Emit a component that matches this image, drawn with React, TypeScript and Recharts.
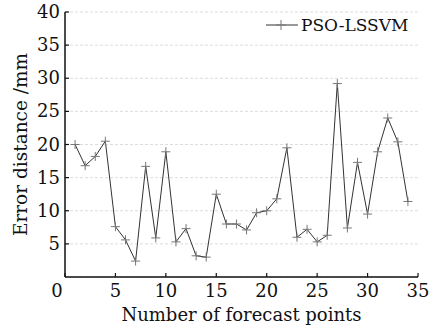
import { LineChart, Line, XAxis, YAxis, CartesianGrid, Legend } from 'recharts';

const forecastPoints = [
  1, 2, 3, 4, 5, 6, 7, 8, 9, 10, 11, 12, 13, 14, 15, 16, 17,
  18, 19, 20, 21, 22, 23, 24, 25, 26, 27, 28, 29, 30, 31, 32, 33, 34,
];
const psoLssvm = [
  20.0, 16.8, 18.2, 20.5, 7.6, 5.6, 2.4, 16.7, 5.9, 18.9, 5.3, 7.3, 3.2, 3.0, 12.5, 8.0, 8.0,
  7.1, 9.7, 10.0, 11.8, 19.5, 6.0, 7.2, 5.3, 6.3, 29.2, 7.4, 17.3, 9.5, 18.9, 24.0, 20.4, 11.4,
];
const xTicks = [0, 5, 10, 15, 20, 25, 30, 35];
const yTicks = [5, 10, 15, 20, 25, 30, 35, 40];

const FONT = 'DejaVu Serif';

const chartData = forecastPoints.map((n, i) => ({ n, err: psoLssvm[i] }));

function PlusDot(props: any) {
  const { cx, cy } = props;
  if (cx == null || cy == null) return null;
  return (
    <g stroke="#777" strokeWidth={1}>
      <line x1={cx - 4.5} y1={cy} x2={cx + 4.5} y2={cy} />
      <line x1={cx} y1={cy - 4.5} x2={cx} y2={cy + 4.5} />
    </g>
  );
}

function XTick(props: any) {
  const { x, y, payload } = props;
  const shift = payload.value === 0 ? -8 : 0;
  return (
    <text x={x + shift} y={y} dy={14} textAnchor="middle" fill="#111" fontSize={18} fontFamily={FONT}>
      {payload.value}
    </text>
  );
}

function YTick(props: any) {
  const { x, y, payload } = props;
  return (
    <text x={x} y={y} dy={6} textAnchor="end" fill="#111" fontSize={18} fontFamily={FONT}>
      {payload.value}
    </text>
  );
}

function LegendBox(props: any) {
  const name = props.payload && props.payload[0] ? props.payload[0].value : '';
  return (
    <svg width={160} height={24}>
      <line x1={4} y1={12} x2={36} y2={12} stroke="#333" strokeWidth={1} />
      <line x1={14} y1={12} x2={24} y2={12} stroke="#777" strokeWidth={1} />
      <line x1={19} y1={7} x2={19} y2={17} stroke="#777" strokeWidth={1} />
      <text x={39} y={18} fill="#111" fontSize={17} fontFamily={FONT}>
        {name}
      </text>
    </svg>
  );
}

export default function App() {
  return (
    <div style={{ position: 'absolute', left: 0, top: 0, background: '#fff' }}>
      <LineChart
        width={441}
        height={329}
        data={chartData}
        margin={{ top: 12, right: 23, left: 0, bottom: 0 }}
        style={{ fontFamily: FONT }}
      >
        <CartesianGrid vertical={false} stroke="#ddd" strokeDasharray="3 2" />
        <XAxis
          dataKey="n"
          type="number"
          domain={[0, 35]}
          ticks={xTicks}
          height={52}
          axisLine={{ stroke: '#111', strokeWidth: 1.5 }}
          tickLine={{ stroke: '#111', strokeWidth: 1.2 }}
          tickSize={-4}
          tickMargin={10}
          tick={<XTick />}
          label={{ value: 'Number of forecast points', position: 'insideBottom', offset: 8, fill: '#111', fontSize: 18, fontFamily: FONT }}
        />
        <XAxis
          xAxisId="top"
          orientation="top"
          type="number"
          domain={[0, 35]}
          height={0}
          tick={false}
          tickLine={false}
          axisLine={{ stroke: '#111', strokeWidth: 1.5 }}
        />
        <YAxis
          type="number"
          domain={[0, 40]}
          ticks={yTicks}
          width={65}
          axisLine={{ stroke: '#111', strokeWidth: 1.5 }}
          tickLine={{ stroke: '#111', strokeWidth: 1.2 }}
          tickSize={-4}
          tickMargin={9}
          tick={<YTick />}
          label={{ value: 'Error distance /mm', angle: -90, position: 'insideLeft', offset: 20, fill: '#111', fontSize: 18.5, fontFamily: FONT, style: { textAnchor: 'middle' } }}
        />
        <YAxis
          yAxisId="right"
          orientation="right"
          type="number"
          domain={[0, 40]}
          width={0}
          tick={false}
          tickLine={false}
          axisLine={{ stroke: '#111', strokeWidth: 1.5 }}
        />
        <Legend
          layout="horizontal"
          verticalAlign="middle"
          align="center"
          content={<LegendBox />}
          wrapperStyle={{ top: 13, left: 262, width: 160, height: 24 }}
        />
        <Line
          dataKey="err"
          name="PSO-LSSVM"
          stroke="#333"
          strokeWidth={1}
          dot={<PlusDot />}
          activeDot={false}
          isAnimationActive={false}
        />
      </LineChart>
    </div>
  );
}
